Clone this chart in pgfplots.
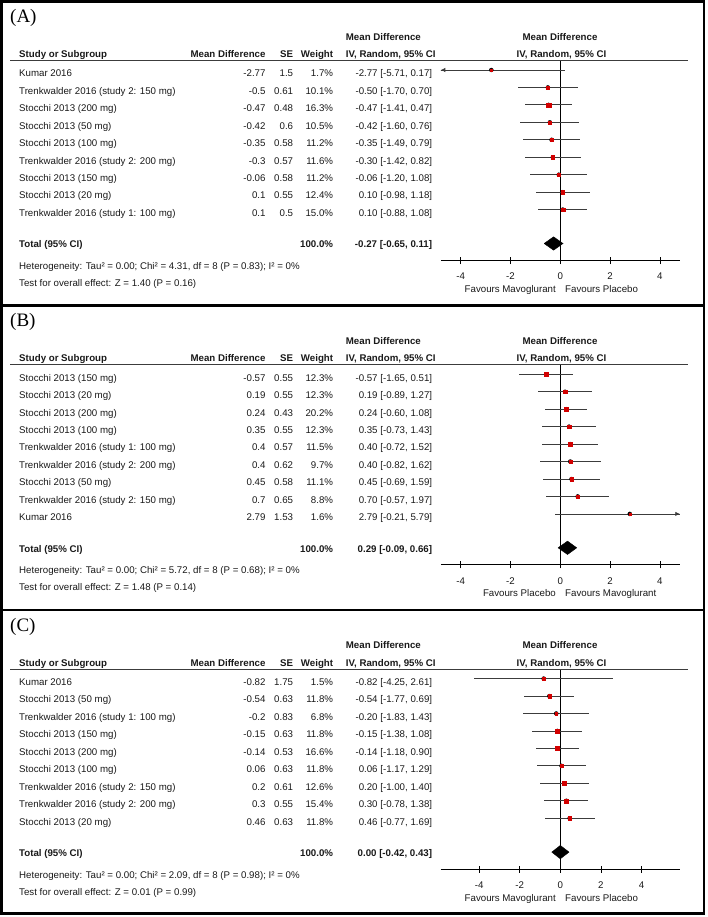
\documentclass[border=0pt]{standalone}
\usepackage{fontspec}
\setmainfont{Liberation Sans}
\newfontfamily\seriffont{Liberation Serif}
\usepackage{pgfplots}
\pgfplotsset{compat=1.18}
\usepackage{pgfplotstable}
\usetikzlibrary{arrows.meta}
\definecolor{mkred}{RGB}{210,0,0}
\definecolor{txt}{RGB}{25,25,25}
\definecolor{cil}{RGB}{60,60,60}
\newcommand\fs{\fontsize{9.7pt}{11pt}\selectfont}

% row: marker row index (y = -row), md, lower, upper, weight (%)
\pgfplotstableread{
row md lo hi w
0 -2.77 -5.71 0.17 1.7
1 -0.50 -1.70 0.70 10.1
2 -0.47 -1.41 0.47 16.3
3 -0.42 -1.60 0.76 10.5
4 -0.35 -1.49 0.79 11.2
5 -0.30 -1.42 0.82 11.6
6 -0.06 -1.20 1.08 11.2
7 0.10 -0.98 1.18 12.4
8 0.10 -0.88 1.08 15.0
}\tabA
\pgfplotstableread{
row md lo hi w
0 -0.57 -1.65 0.51 12.3
1 0.19 -0.89 1.27 12.3
2 0.24 -0.60 1.08 20.2
3 0.35 -0.73 1.43 12.3
4 0.40 -0.72 1.52 11.5
5 0.40 -0.82 1.62 9.7
6 0.45 -0.69 1.59 11.1
7 0.70 -0.57 1.97 8.8
8 2.79 -0.21 5.79 1.6
}\tabB
\pgfplotstableread{
row md lo hi w
0 -0.82 -4.25 2.61 1.5
1 -0.54 -1.77 0.69 11.8
2 -0.20 -1.83 1.43 6.8
3 -0.15 -1.38 1.08 11.8
4 -0.14 -1.18 0.90 16.6
5 0.06 -1.17 1.29 11.8
6 0.20 -1.00 1.40 12.6
7 0.30 -0.78 1.38 15.4
8 0.46 -0.77 1.69 11.8
}\tabC

\pgfplotsset{
 forest/.style={
  x=24.9pt, y=17.45pt, xmin=-4.8, xmax=4.8, ymin=-10.917, ymax=0.544,
  axis x line=bottom, axis y line=none,
  x axis line style={-, black, line width=0.8pt},
  xtick={-4,-2,0,2,4}, tick align=center, major tick length=7pt,
  tick style={black, line width=0.8pt},
  xticklabel style={font=\fs, text=txt, yshift=-5.5pt},
  /pgf/number format/assume math mode=true,
  anchor=south west, clip=true,
 },
 cis/.style={only marks, mark=none, error bars/.cd, x dir=both, x explicit,
  error mark=none, error bar style={draw=cil, line width=0.8pt}},
 sq/.style={scatter, only marks, mark=square*, point meta=\thisrow{w},
  scatter/use mapped color={draw=mkred, fill=mkred},
  every mark/.append style={line width=0.2pt},
  visualization depends on={max(sqrt(\thisrow{w})/2,1.15) \as \msz},
  scatter/@pre marker code/.append style={/tikz/mark size=\msz pt}},
}

\newcommand\srow[7]{%
 \pgfmathsetmacro\yy{76.8+17.45*#2+#1}%
 \node[anchor=base west] at (19,\yy) {#3};
 \node[anchor=base east] at (265.7,\yy) {#4};
 \node[anchor=base east] at (293.3,\yy) {#5};
 \node[anchor=base east] at (333.3,\yy) {#6};
 \node[anchor=base east] at (432.3,\yy) {#7};
}
\newcommand\panelhead[2]{%
 \node[anchor=base west, font=\seriffont\fontsize{19pt}{22pt}\selectfont, text=black] at (10,{22.5+#1}) {#2};
 \node[anchor=base west, font=\fs\bfseries] at (345.7,{40.1+#1}) {Mean Difference};
 \node[anchor=base, font=\fs\bfseries] at (560,{40.1+#1}) {Mean Difference};
 \node[anchor=base west, font=\fs\bfseries] at (19,{57.5+#1}) {Study or Subgroup};
 \node[anchor=base east, font=\fs\bfseries] at (265.7,{57.5+#1}) {Mean Difference};
 \node[anchor=base east, font=\fs\bfseries] at (293.3,{57.5+#1}) {SE};
 \node[anchor=base east, font=\fs\bfseries] at (333.3,{57.5+#1}) {Weight};
 \node[anchor=base west, font=\fs\bfseries] at (345.7,{57.5+#1}) {IV, Random, 95\% CI};
 \node[anchor=base, font=\fs\bfseries] at (561.5,{57.5+#1}) {IV, Random, 95\% CI};
 \draw[cil, line width=0.9pt] (10,{60.5+#1}) -- (688,{60.5+#1});
}
\newcommand\paneltail[6]{%
 \node[anchor=base west, font=\fs\bfseries] at (19,{247.8+#1}) {Total (95\% CI)};
 \node[anchor=base east, font=\fs\bfseries] at (333.3,{247.8+#1}) {100.0\%};
 \node[anchor=base east, font=\fs\bfseries] at (432.3,{247.8+#1}) {#2};
 \node[anchor=base west] at (19,{269.5+#1}) {#3};
 \node[anchor=base west] at (19,{286.5+#1}) {#4};
 \node[anchor=base east] at (556,{292.5+#1}) {#5};
 \node[anchor=base west] at (565,{292.5+#1}) {#6};
}

\begin{document}
\begin{tikzpicture}
\useasboundingbox (0pt,0pt) rectangle (708pt,-917pt);

% ---------- Panel A ----------
\begin{axis}[forest, at={(440.78pt,-260.5pt)}]
 \addplot[black, line width=0.8pt] coordinates {(0,0.544) (0,-10.917)};
 \addplot[cis] table[x=md, y expr=-\thisrow{row}, x error plus expr=\thisrow{hi}-\thisrow{md}, x error minus expr=\thisrow{md}-\thisrow{lo}] {\tabA};
 \addplot[cil, line width=0.8pt, -{Latex[length=4.5pt,width=4.5pt]}] coordinates {(-4.3,0) (-4.8,0)};
 \addplot[sq] table[x=md, y expr=-\thisrow{row}] {\tabA};
 \addplot[fill=black, draw=black] coordinates {(-0.65,-9.943) (-0.27,-9.559) (0.11,-9.943) (-0.27,-10.327) (-0.65,-9.943)};
\end{axis}

% ---------- Panel B ----------
\begin{axis}[forest, at={(440.78pt,-564.8pt)}]
 \addplot[black, line width=0.8pt] coordinates {(0,0.544) (0,-10.917)};
 \addplot[cis] table[x=md, y expr=-\thisrow{row}, x error plus expr=\thisrow{hi}-\thisrow{md}, x error minus expr=\thisrow{md}-\thisrow{lo}] {\tabB};
 \addplot[cil, line width=0.8pt, -{Latex[length=4.5pt,width=4.5pt]}] coordinates {(4.3,-8) (4.8,-8)};
 \addplot[sq] table[x=md, y expr=-\thisrow{row}] {\tabB};
 \addplot[fill=black, draw=black] coordinates {(-0.09,-9.943) (0.29,-9.559) (0.66,-9.943) (0.29,-10.327) (-0.09,-9.943)};
\end{axis}

% ---------- Panel C ----------
\begin{axis}[forest, x=20.3pt, xmin=-5.9, xmax=5.9, at={(440.53pt,-869.1pt)}]
 \addplot[black, line width=0.8pt] coordinates {(0,0.544) (0,-10.917)};
 \addplot[cis] table[x=md, y expr=-\thisrow{row}, x error plus expr=\thisrow{hi}-\thisrow{md}, x error minus expr=\thisrow{md}-\thisrow{lo}] {\tabC};
 \addplot[sq] table[x=md, y expr=-\thisrow{row}] {\tabC};
 \addplot[fill=black, draw=black] coordinates {(-0.42,-9.943) (0.00,-9.559) (0.43,-9.943) (0.00,-10.327) (-0.42,-9.943)};
\end{axis}

\begin{scope}[x=1pt, y=-1pt, every node/.style={inner sep=0pt, font=\fs, text=txt}]
 \draw[line width=2.5pt] (1.3,1.3) rectangle (704,305.6);
 \draw[line width=2.5pt] (1.3,305.6) rectangle (704,609.9);
 \draw[line width=2.5pt] (1.3,609.9) rectangle (704,913.5);

 % Panel A text
 \panelhead{0}{(A)}
 \srow{0}{0}{Kumar 2016}{-2.77}{1.5}{1.7\%}{-2.77 [-5.71, 0.17]}
 \srow{0}{1}{Trenkwalder 2016 (study 2: 150 mg)}{-0.5}{0.61}{10.1\%}{-0.50 [-1.70, 0.70]}
 \srow{0}{2}{Stocchi 2013 (200 mg)}{-0.47}{0.48}{16.3\%}{-0.47 [-1.41, 0.47]}
 \srow{0}{3}{Stocchi 2013 (50 mg)}{-0.42}{0.6}{10.5\%}{-0.42 [-1.60, 0.76]}
 \srow{0}{4}{Stocchi 2013 (100 mg)}{-0.35}{0.58}{11.2\%}{-0.35 [-1.49, 0.79]}
 \srow{0}{5}{Trenkwalder 2016 (study 2: 200 mg)}{-0.3}{0.57}{11.6\%}{-0.30 [-1.42, 0.82]}
 \srow{0}{6}{Stocchi 2013 (150 mg)}{-0.06}{0.58}{11.2\%}{-0.06 [-1.20, 1.08]}
 \srow{0}{7}{Stocchi 2013 (20 mg)}{0.1}{0.55}{12.4\%}{0.10 [-0.98, 1.18]}
 \srow{0}{8}{Trenkwalder 2016 (study 1: 100 mg)}{0.1}{0.5}{15.0\%}{0.10 [-0.88, 1.08]}
 \paneltail{0}{-0.27 [-0.65, 0.11]}{Heterogeneity: Tau² = 0.00; Chi² = 4.31, df = 8 (P = 0.83); I² = 0\%}{Test for overall effect: Z = 1.40 (P = 0.16)}{Favours Mavoglurant}{Favours Placebo}

 % Panel B text
 \panelhead{304.3}{(B)}
 \srow{304.3}{0}{Stocchi 2013 (150 mg)}{-0.57}{0.55}{12.3\%}{-0.57 [-1.65, 0.51]}
 \srow{304.3}{1}{Stocchi 2013 (20 mg)}{0.19}{0.55}{12.3\%}{0.19 [-0.89, 1.27]}
 \srow{304.3}{2}{Stocchi 2013 (200 mg)}{0.24}{0.43}{20.2\%}{0.24 [-0.60, 1.08]}
 \srow{304.3}{3}{Stocchi 2013 (100 mg)}{0.35}{0.55}{12.3\%}{0.35 [-0.73, 1.43]}
 \srow{304.3}{4}{Trenkwalder 2016 (study 1: 100 mg)}{0.4}{0.57}{11.5\%}{0.40 [-0.72, 1.52]}
 \srow{304.3}{5}{Trenkwalder 2016 (study 2: 200 mg)}{0.4}{0.62}{9.7\%}{0.40 [-0.82, 1.62]}
 \srow{304.3}{6}{Stocchi 2013 (50 mg)}{0.45}{0.58}{11.1\%}{0.45 [-0.69, 1.59]}
 \srow{304.3}{7}{Trenkwalder 2016 (study 2: 150 mg)}{0.7}{0.65}{8.8\%}{0.70 [-0.57, 1.97]}
 \srow{304.3}{8}{Kumar 2016}{2.79}{1.53}{1.6\%}{2.79 [-0.21, 5.79]}
 \paneltail{304.3}{0.29 [-0.09, 0.66]}{Heterogeneity: Tau² = 0.00; Chi² = 5.72, df = 8 (P = 0.68); I² = 0\%}{Test for overall effect: Z = 1.48 (P = 0.14)}{Favours Placebo}{Favours Mavoglurant}

 % Panel C text
 \panelhead{608.6}{(C)}
 \srow{608.6}{0}{Kumar 2016}{-0.82}{1.75}{1.5\%}{-0.82 [-4.25, 2.61]}
 \srow{608.6}{1}{Stocchi 2013 (50 mg)}{-0.54}{0.63}{11.8\%}{-0.54 [-1.77, 0.69]}
 \srow{608.6}{2}{Trenkwalder 2016 (study 1: 100 mg)}{-0.2}{0.83}{6.8\%}{-0.20 [-1.83, 1.43]}
 \srow{608.6}{3}{Stocchi 2013 (150 mg)}{-0.15}{0.63}{11.8\%}{-0.15 [-1.38, 1.08]}
 \srow{608.6}{4}{Stocchi 2013 (200 mg)}{-0.14}{0.53}{16.6\%}{-0.14 [-1.18, 0.90]}
 \srow{608.6}{5}{Stocchi 2013 (100 mg)}{0.06}{0.63}{11.8\%}{0.06 [-1.17, 1.29]}
 \srow{608.6}{6}{Trenkwalder 2016 (study 2: 150 mg)}{0.2}{0.61}{12.6\%}{0.20 [-1.00, 1.40]}
 \srow{608.6}{7}{Trenkwalder 2016 (study 2: 200 mg)}{0.3}{0.55}{15.4\%}{0.30 [-0.78, 1.38]}
 \srow{608.6}{8}{Stocchi 2013 (20 mg)}{0.46}{0.63}{11.8\%}{0.46 [-0.77, 1.69]}
 \paneltail{608.6}{0.00 [-0.42, 0.43]}{Heterogeneity: Tau² = 0.00; Chi² = 2.09, df = 8 (P = 0.98); I² = 0\%}{Test for overall effect: Z = 0.01 (P = 0.99)}{Favours Mavoglurant}{Favours Placebo}
\end{scope}
\end{tikzpicture}
\end{document}
